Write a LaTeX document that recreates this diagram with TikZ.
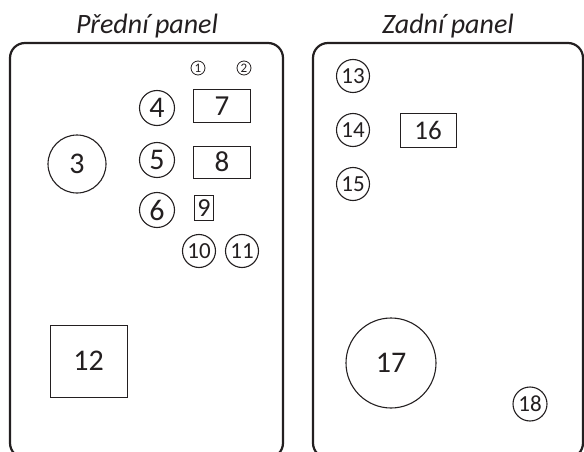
\documentclass[tikz,border=0pt]{standalone}
\usepackage{fontspec}
\setmainfont{Carlito}
\definecolor{ink}{HTML}{231F20}
\tikzset{
    panel/.style={draw=ink, line width=2.2pt, rounded corners=15pt},
    knob/.style={circle, draw=ink, line width=1.1pt, inner sep=0pt, text=ink},
    socket/.style={rectangle, draw=ink, line width=1pt, inner sep=0pt, text=ink},
    title/.style={font=\itshape\fontsize{28}{28}\selectfont, text=ink, anchor=base},
}
\newcommand{\fs}[1]{\fontsize{#1}{#1}\selectfont}

\begin{document}
\begin{tikzpicture}[x=1pt, y=-1pt]
        \useasboundingbox (0, 0) rectangle (584, 452);
        %draw front and rear panel
        \draw[panel] (10, 43) rectangle (283, 458);
        \draw[panel] (313, 43) rectangle (583, 458);
        %label panels
        \node[title] (front) at (147, 34) {Přední panel};
        \node[title] (rear) at (448, 34) {Zadní panel};
        %front panel
        \node[knob, line width=0.8pt, minimum size=14pt, font=\fs{13}] (c1) at (198, 68) {1};
        \node[knob, line width=0.8pt, minimum size=14pt, font=\fs{13}] (c2) at (244, 68) {2};
        \node[knob, minimum size=58pt, font=\fs{30}] (k3) at (77, 164) {3};
        \node[knob, minimum size=35pt, font=\fs{30}] (k4) at (157, 108) {4};
        \node[knob, minimum size=35pt, font=\fs{30}] (k5) at (157, 160) {5};
        \node[knob, minimum size=35pt, font=\fs{30}] (k6) at (157, 210) {6};
        \node[socket, minimum width=57pt, minimum height=32pt, font=\fs{29}] (s7) at (222, 106) {7};
        \node[socket, minimum width=57pt, minimum height=32pt, font=\fs{29}] (s8) at (222, 162) {8};
        \node[socket, minimum width=19pt, minimum height=25pt, font=\fs{26}] (s9) at (204, 208) {9};
        \node[knob, minimum size=33pt, font=\fs{23}] (k10) at (199, 251) {10};
        \node[knob, minimum size=33pt, font=\fs{23}] (k11) at (242, 251) {11};
        \node[socket, minimum width=77pt, minimum height=72pt, font=\fs{30}] (s12) at (88.5, 361) {12};
        %rear panel
        \node[knob, minimum size=33pt, font=\fs{23}] (k13) at (353, 76) {13};
        \node[knob, minimum size=33pt, font=\fs{23}] (k14) at (353, 130) {14};
        \node[knob, minimum size=33pt, font=\fs{23}] (k15) at (353, 184) {15};
        \node[socket, minimum width=56pt, minimum height=34pt, font=\fs{27}] (s16) at (428, 130) {16};
        \node[knob, minimum size=90pt, font=\fs{30}] (k17) at (391, 363) {17};
        \node[knob, minimum size=34pt, font=\fs{23}] (k18) at (530, 404) {18};
    \end{tikzpicture}
\end{document}
